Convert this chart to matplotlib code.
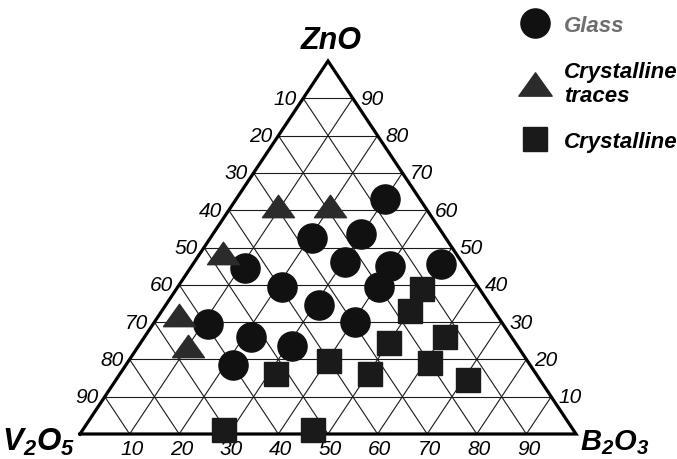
import matplotlib
matplotlib.use("Agg")
import matplotlib.pyplot as plt
from matplotlib.lines import Line2D
from matplotlib.path import Path

plt.rcParams['font.family'] = ['Liberation Sans', 'DejaVu Sans']
plt.rcParams['mathtext.fontset'] = 'custom'
plt.rcParams['mathtext.rm'] = 'Liberation Sans:bold:italic'
plt.rcParams['mathtext.it'] = 'Liberation Sans:bold:italic'
plt.rcParams['mathtext.bf'] = 'Liberation Sans:bold:italic'

# Compositions (mol %)
glass_zno = [63, 52.5, 53.5, 44.5, 46, 45, 45.5, 39.5, 39.5, 34.5, 30, 23.5, 29.5, 26, 18.5]
glass_b2o3 = [30, 20.5, 30, 11, 30.5, 40, 50, 21, 40.5, 31, 40.5, 31, 11, 21.5, 21.5]
glass_v2o5 = [7, 27, 16.5, 44.5, 23.5, 15, 4.5, 39.5, 20, 34.5, 29.5, 45.5, 59.5, 52.5, 60]

traces_zno = [48.5, 32, 23.5, 61, 61]
traces_b2o3 = [4.5, 4, 10, 9.5, 20]
traces_v2o5 = [47, 64, 66.5, 29.5, 19]

cryst_zno = [39, 33, 26, 24.5, 19.5, 16, 16, 19, 14.5, 1, 1]
cryst_b2o3 = [49.5, 50, 60.5, 50, 40.5, 31.5, 50.5, 61, 71, 28.5, 46.5]
cryst_v2o5 = [11.5, 17, 13.5, 25.5, 40, 52.5, 33.5, 20, 14.5, 70.5, 52.5]

grid_ticks = [10, 20, 30, 40, 50, 60, 70, 80, 90]
legend_labels = ["Glass", "Crystalline\ntraces", "Crystalline"]


def project(zno, b2o3, v2o5):
    """Ternary -> planar coordinates (B2O3 to the right, ZnO up)."""
    xs, ys = [], []
    for z, b, v in zip(zno, b2o3, v2o5):
        tot = z + b + v
        xs.append((b + z / 2.0) / tot)
        ys.append(z / tot)
    return xs, ys


fig = plt.figure(figsize=(6.77, 4.6), dpi=100)
ax = fig.add_axes([0, 0, 1, 1])
ax.set_xlim(-80 / 496, 597 / 496)
ax.set_ylim(-25 / 373, 435 / 373)
ax.axis('off')

# grid
gkw = dict(color='#1a1a1a', lw=0.8, zorder=1)
for t in grid_ticks:
    # constant ZnO
    x, y = project([t, t], [0, 100 - t], [100 - t, 0])
    ax.plot(x, y, **gkw)
    # constant B2O3
    x, y = project([0, 100 - t], [t, t], [100 - t, 0])
    ax.plot(x, y, **gkw)
    # constant V2O5
    x, y = project([0, 100 - t], [100 - t, 0], [t, t])
    ax.plot(x, y, **gkw)

# triangle frame
x, y = project([0, 0, 100, 0], [0, 100, 0, 0], [100, 0, 0, 100])
ax.plot(x, y, color='black', lw=2.3, solid_joinstyle='miter', zorder=2)

# tick labels
tkw = dict(fontsize=15, style='italic', textcoords='offset points')
for t in grid_ticks:
    x, y = project([t], [0], [100 - t])
    ax.annotate(str(100 - t), (x[0], y[0]), xytext=(-4.5, 0), ha='right', va='center', **tkw)
    x, y = project([t], [100 - t], [0])
    ax.annotate(str(t), (x[0], y[0]), xytext=(5.5, 0), ha='left', va='center', **tkw)
    x, y = project([0], [t], [100 - t])
    ax.annotate(str(t), (x[0], y[0]), xytext=(1.5, -17.5), ha='center', va='bottom', **tkw)

# vertex labels
vkw = dict(weight='bold', style='italic', textcoords='offset points')
x, y = project([100], [0], [0])
ax.annotate('ZnO', (x[0], y[0]), xytext=(2.5, 15), ha='center', va='center', fontsize=22, **vkw)
x, y = project([0], [0], [100])
ax.annotate('V$_{2}$O$_{5}$', (x[0], y[0]), xytext=(-56, -11.5), ha='left', va='baseline',
            fontsize=22.5, **vkw)
x, y = project([0], [100], [0])
ax.annotate('B$_{2}$O$_{3}$', (x[0], y[0]), xytext=(3, -11), ha='left', va='baseline',
            fontsize=21, **vkw)

# markers
tri = Path([(-1, -0.7), (1, -0.7), (0, 0.7), (-1, -0.7)],
           [Path.MOVETO, Path.LINETO, Path.LINETO, Path.CLOSEPOLY])
circ_style = dict(marker='o', ms=21, color='#111111', ls='none')
tri_style = dict(marker=tri, ms=23, color='#2b2b2b', ls='none')
sq_style = dict(marker='s', ms=17, color='#1a1a1a', ls='none')

x, y = project(glass_zno, glass_b2o3, glass_v2o5)
ax.plot(x, y, zorder=3, **circ_style)
x, y = project(traces_zno, traces_b2o3, traces_v2o5)
ax.plot(x, y, zorder=3, **tri_style)
x, y = project(cryst_zno, cryst_b2o3, cryst_v2o5)
ax.plot(x, y, zorder=3, **sq_style)

# legend
handles = [Line2D([], [], **circ_style),
           Line2D([], [], **{**tri_style, 'ms': 24}),
           Line2D([], [], **sq_style)]
leg = fig.legend(handles, legend_labels, loc='upper left',
                 bbox_to_anchor=(519 / 677, 1 - 16 / 460),
                 frameon=False, borderpad=0, borderaxespad=0,
                 handlelength=1.4, handletextpad=0.62, labelspacing=1.12,
                 prop=dict(family='Liberation Sans', size=16, weight='bold', style='italic'))
for txt, col in zip(leg.get_texts(), ['#6e6e6e', 'black', 'black']):
    txt.set_color(col)

fig.savefig('out.png', dpi=100, facecolor='white')
